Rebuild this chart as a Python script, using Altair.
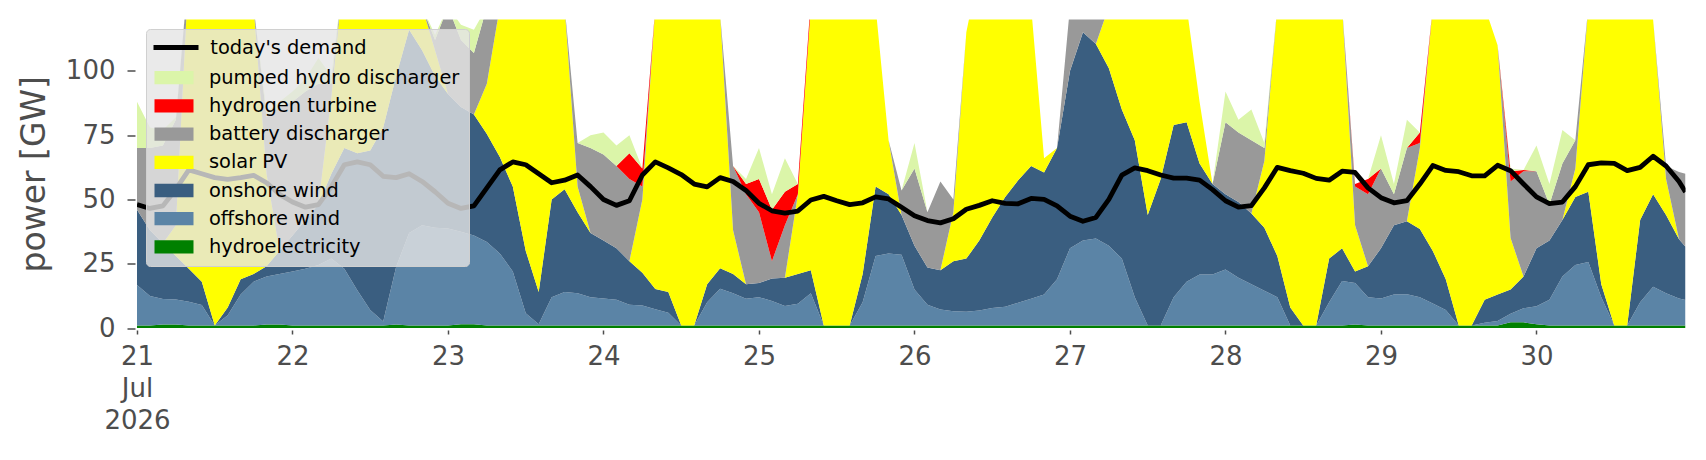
import altair as alt
import pandas as pd

# hours after 21 Jul 2026 00:00 (UTC)
hours = list(range(0, 240, 2)) + [239]

hydro = [1.0, 1.0, 1.4, 1.4, 1.0, 1.0, 1.0, 1.0, 1.0, 1.0, 1.4, 1.4,
         1.0, 1.0, 1.0, 1.0, 1.0, 1.0, 1.0, 1.0, 1.4, 1.0, 1.0, 1.0,
         1.0, 1.5, 1.5, 1.0, 1.0, 1.0, 1.0, 1.0, 1.0, 1.0, 1.0, 1.0,
         1.0, 1.0, 1.0, 1.0, 1.0, 1.0, 1.0, 1.0, 1.0, 1.0, 1.0, 1.0,
         1.0, 1.0, 1.0, 1.0, 1.0, 1.0, 1.0, 1.0, 1.0, 1.0, 1.0, 1.0,
         1.0, 1.0, 1.0, 1.0, 1.0, 1.0, 1.0, 1.0, 1.0, 1.0, 1.0, 1.0,
         1.0, 1.0, 1.0, 1.0, 1.0, 1.0, 1.0, 1.0, 1.0, 1.0, 1.0, 1.0,
         1.0, 1.0, 1.0, 1.0, 1.0, 1.0, 1.0, 1.0, 1.0, 1.0, 1.4, 1.0,
         1.0, 1.0, 1.0, 1.0, 1.0, 1.0, 1.0, 1.0, 1.0, 1.0, 2.2, 2.2,
         1.5, 1.0, 1.0, 1.0, 1.0, 1.0, 1.0, 1.0, 1.0, 1.0, 1.0, 1.0, 1.0]

offshore = [15.7, 11.4, 9.9, 9.7, 9.2, 7.9, 0, 4, 12, 17, 18.6, 19.6,
            21, 22, 23.5, 26, 22, 13.7, 6, 1.5, 22.4, 36, 39, 38,
            37.7, 35.9, 34.5, 32.5, 28, 21, 4.7, 0.5, 11, 13, 12.5, 11,
            10.5, 10, 8, 7.8, 6.3, 4.9, 0, 0, 9, 14.3, 12.5, 10.4,
            11, 9.5, 7.6, 8.4, 12.5, 0, 0, 0, 9, 27, 28, 27.5,
            14, 8, 6.2, 5.5, 5.3, 5.8, 6.8, 7.3, 8.8, 10.4, 12, 18,
            30, 33, 33.8, 31, 26, 11, 0, 0, 11, 17, 19.8, 19.8,
            21.8, 18.5, 16, 13.5, 11, 0, 0, 0, 9, 17.3, 16.1, 11,
            10.5, 12, 12.1, 11, 8.5, 6, 0, 0, 1, 1.7, 3.3, 5.5,
            7, 10, 19, 23.5, 24.7, 11, 0, 0, 9, 15, 12.5, 10.5, 9.9]

onshore = [29.3, 25.6, 21.7, 16.9, 12.8, 9.1, 0, 3, 6, 3, 4, 9,
           14, 19, 23.5, 33, 47, 53.3, 62, 75.5, 74.2, 79, 68, 59,
           52.3, 48.6, 47, 42, 37.5, 33, 24.3, 12.5, 38, 40, 31.5, 25,
           22.5, 20, 17, 12.7, 7.9, 8.1, 0, 0, 7, 7.9, 7.5, 5.6,
           5.5, 8.8, 10.9, 11.6, 9, 0, 0, 0, 11, 27, 23, 15.5,
           17, 14.5, 15.3, 19.5, 20.7, 27.2, 35.2, 42.7, 47.7, 51.6, 47.5, 51,
           69, 81, 75.7, 69, 58, 61, 43, 57, 67, 62, 43.2, 35.2,
           29.2, 29.5, 27.5, 24.5, 16, 7, 0, 0, 17, 12.7, 4.5, 12,
           19.5, 27, 28.4, 26.5, 20.5, 12, 0, 0, 9, 10.3, 9.5, 12.3,
           22.5, 23, 22, 26.5, 27.3, 5, 0, 0, 32, 36, 30.5, 23, 20.7]

solar = [0, 0, 0, 12, 117, 132, 149, 142, 131, 104, 36, 0,
         0, 0, 0, 30, 70, 82, 81, 72, 52, 34, 17, 10,
         0, 0, 0, 19.5, 58.5, 85, 110, 126, 90, 71, 10, 0,
         0, 0, 0, 28.5, 109.8, 126, 139, 139, 123, 98.8, 17, 0,
         0, 0, 0, 31, 102.5, 139, 139, 139, 119, 70, 21, 0,
         0, 0, 0, 19, 88, 106, 97, 89, 82.5, 62, 5.5, 0,
         0, 0, 0, 24, 55, 67, 96, 82, 61, 45, 24, 0,
         0, 0, 0, 26, 97, 132, 139, 139, 113, 94, 18, 0,
         0, 0, 0, 31.5, 95, 121, 139, 139, 114, 97, 20, 0,
         0, 0, 0, 11, 72, 123, 139, 139, 98, 68, 14, 0, 0]

battery = [24, 32, 38, 41, 0, 0, 0, 0, 0, 0, 22, 56,
           52, 50, 47, 5, 0, 0, 0, 0, 0, 0, 0, 4,
           34, 26, 24, 30, 0, 0, 0, 0, 0, 0, 17, 33,
           33.5, 32, 32, 5, 0, 0, 0, 0, 0, 0, 25, 35,
           27.5, 6.7, 20.5, 0, 0, 0, 0, 0, 0, 0, 0, 9.5,
           30, 21.5, 34.5, 5, 0, 0, 0, 0, 0, 0, 0, 0,
           25, 10, 14.5, 0, 0, 0, 0, 0, 0, 0, 0, 0,
           28, 27, 28.5, 5, 0, 0, 0, 0, 0, 0, 15, 28,
           31, 12, 28.5, 2, 0, 0, 0, 0, 0, 0, 22, 41,
           30, 14, 22, 11, 0, 0, 0, 0, 0, 0, 5, 26.2, 28.4]

hydrogen = [0, 0, 0, 0, 0, 0, 0, 0, 0, 0, 0, 0,
            0, 0, 0, 0, 0, 0, 0, 0, 0, 0, 0, 0,
            0, 0, 0, 0, 0, 0, 0, 0, 0, 0, 0, 0,
            0, 0, 10, 7, 0, 0, 0, 0, 0, 0, 0, 4,
            13, 20, 13, 4, 3, 0, 0, 0, 0, 0, 0, 0,
            0, 0, 0, 0, 0, 0, 0, 0, 0, 0, 0, 0,
            0, 0, 0, 0, 0, 0, 0, 0, 0, 0, 0, 0,
            0, 0, 0, 0, 0, 0, 0, 0, 0, 0, 1, 6,
            0, 0, 0, 4, 0, 0, 0, 0, 0, 0, 4, 0.5,
            0, 0, 0, 0, 0, 0, 0, 0, 0, 0, 0, 0, 0]

pumped = [18, 8, 6, 1, 0, 0, 0, 0, 0, 0, 2, 2,
          4, 5, 10, 3, 0, 0, 0, 0, 0, 0, 0, 2,
          0, 6, 9, 0, 0, 0, 0, 0, 0, 0, 0, 5,
          8.5, 8, 7, 0, 0, 0, 0, 0, 0, 0, 0, 2,
          12, 6, 13, 0, 0, 0, 0, 0, 0, 0, 0, 0,
          10, 0, 0, 0, 0, 0, 0, 0, 0, 0, 0, 0,
          0, 0, 0, 0, 0, 0, 0, 0, 0, 0, 0, 0,
          12, 5, 12, 2, 0, 0, 0, 0, 0, 0, 0, 0,
          13, 4, 11, 0, 0, 0, 0, 0, 0, 0, 1, 0,
          10, 8, 13, 0, 0, 0, 0, 0, 0, 0, 0, 0, 0]

demand = [48, 46.5, 47.5, 54, 61.5, 60, 58.5, 57.8, 58.5, 59.4, 56.5, 52,
          49, 47, 48, 55, 63.5, 64.6, 63.5, 59, 58.5, 60, 57, 53,
          48.5, 46.5, 47.5, 54.5, 61.5, 64.6, 63.5, 60, 56.5, 57.5, 59.5, 55,
          50, 47.7, 49.5, 59.5, 64.6, 62.3, 59.7, 56, 54.9, 58.5, 57, 53.5,
          48.5, 45.6, 44.7, 45.5, 49.8, 51.2, 49.5, 48, 48.7, 51, 50.2, 47,
          43.7, 41.8, 40.9, 42.5, 46.2, 47.7, 49.5, 48.5, 48.3, 50.4, 50, 47.5,
          43.5, 41.5, 43, 50, 59.5, 62.3, 61.2, 59.5, 58.3, 58.3, 57.5, 53.8,
          49.5, 47, 47.6, 54.5, 62.5, 61.2, 60.2, 58.2, 57.5, 61, 60.5, 54.5,
          50.7, 48.7, 49.5, 56, 63.2, 61.3, 60.8, 59.2, 59.2, 63.3, 61.2, 56,
          51, 48.4, 49, 55, 63.5, 64.2, 64, 61.2, 62.5, 66.8, 63, 57, 52.9]

# stacking order bottom -> top
stack_names = ["hydroelectricity", "offshore wind", "onshore wind", "solar PV",
               "battery discharger", "hydrogen turbine", "pumped hydro discharger"]
stack_values = [hydro, offshore, onshore, solar, battery, hydrogen, pumped]
stack_colors = ["#008000", "#5b84a6", "#3a5e80", "#ffff00",
                "#999999", "#ff0000", "#dbf5a9"]

legend_names = stack_names[::-1]
legend_colors = stack_colors[::-1]

start = pd.Timestamp("2026-07-21T00:00:00")
times = [(start + pd.Timedelta(hours=h)).strftime("%Y-%m-%dT%H:%M:%SZ") for h in hours]

rows = []
for k, (name, vals) in enumerate(zip(stack_names, stack_values)):
    for t, v in zip(times, vals):
        rows.append({"time": t, "source": name, "value": v, "stack": k})
df = pd.DataFrame(rows)
dem_df = pd.DataFrame({"time": times, "demand": demand, "label": "today's demand"})

FONT = "DejaVu Sans"
GREY = "#4d4d4d"

xscale = alt.Scale(
    type="utc",
    domain=[alt.DateTime(year=2026, month=7, date=21, utc=True),
            alt.DateTime(year=2026, month=7, date=30, hours=23, utc=True)],
)
xaxis = alt.Axis(
    values=[alt.DateTime(year=2026, month=7, date=d, utc=True) for d in range(21, 31)],
    labelExpr="utcFormat(datum.value, '%d') == '21' ? ['21', 'Jul', '2026'] : utcFormat(datum.value, '%d')",
    title=None, grid=False, domain=False,
    labelFont=FONT, labelFontSize=26, labelColor=GREY,
    labelPadding=9, labelLineHeight=32, labelOverlap=False, labelFlush=False,
    tickSize=4, tickColor=GREY, tickWidth=1.5, offset=2,
)
yaxis = alt.Axis(
    values=[0, 25, 50, 75, 100], title="power [GW]", grid=False, domain=False,
    titleFont=FONT, titleFontSize=33, titleFontWeight="normal", titleColor=GREY,
    titlePadding=14,
    labelFont=FONT, labelFontSize=26, labelColor=GREY, labelPadding=12,
    tickSize=8, tickColor=GREY, tickWidth=1.5, offset=2,
)
yscale = alt.Scale(domain=[0, 120], nice=False)

fill_legend = alt.Legend(
    orient="none", legendX=9, legendY=9.5, title=" ", titleFontSize=19.4,
    titleFont=FONT, titlePadding=10.3, fillColor="rgba(229,229,229,0.8)",
    strokeColor="#d0d0d0", cornerRadius=4, padding=9,
    labelFont=FONT, labelFontSize=19.4, labelColor="black", labelLimit=400,
    symbolType="M-2,-0.68H2V0.68H-2Z", symbolSize=380, symbolStrokeWidth=0,
    symbolOpacity=1, rowPadding=8.2, labelOffset=25, symbolOffset=9, zindex=1,
)
stroke_legend = alt.Legend(
    orient="none", legendX=14, legendY=3, title=None, padding=0,
    symbolType="stroke", symbolSize=2025, symbolStrokeWidth=5,
    labelFont=FONT, labelFontSize=19.4, labelColor="black", labelOffset=9.3,
    zindex=2,
)

area = alt.Chart(df).mark_area(clip=True, interpolate="linear", strokeWidth=0).encode(
    x=alt.X("time:T", scale=xscale, axis=xaxis),
    y=alt.Y("value:Q", stack="zero", scale=yscale, axis=yaxis),
    fill=alt.Fill("source:N", scale=alt.Scale(domain=legend_names, range=legend_colors),
                  legend=fill_legend),
    order=alt.Order("stack:Q", sort="ascending"),
)

line = alt.Chart(dem_df).mark_line(clip=True, strokeWidth=4.8, strokeJoin="round").encode(
    x=alt.X("time:T", scale=xscale, axis=xaxis),
    y=alt.Y("demand:Q", scale=yscale, axis=yaxis),
    stroke=alt.Stroke("label:N", scale=alt.Scale(domain=["today's demand"], range=["black"]),
                      legend=stroke_legend),
)

chart = alt.layer(area, line).properties(
    width=1548.5, height=308.5,
    autosize=alt.AutoSizeParams(type="none"),
    padding={"left": 129, "top": 11.5, "right": 10, "bottom": 125},
    background="white",
).configure_view(stroke=None)

chart.save("out.html", embed_options={"renderer": "svg", "actions": False})
